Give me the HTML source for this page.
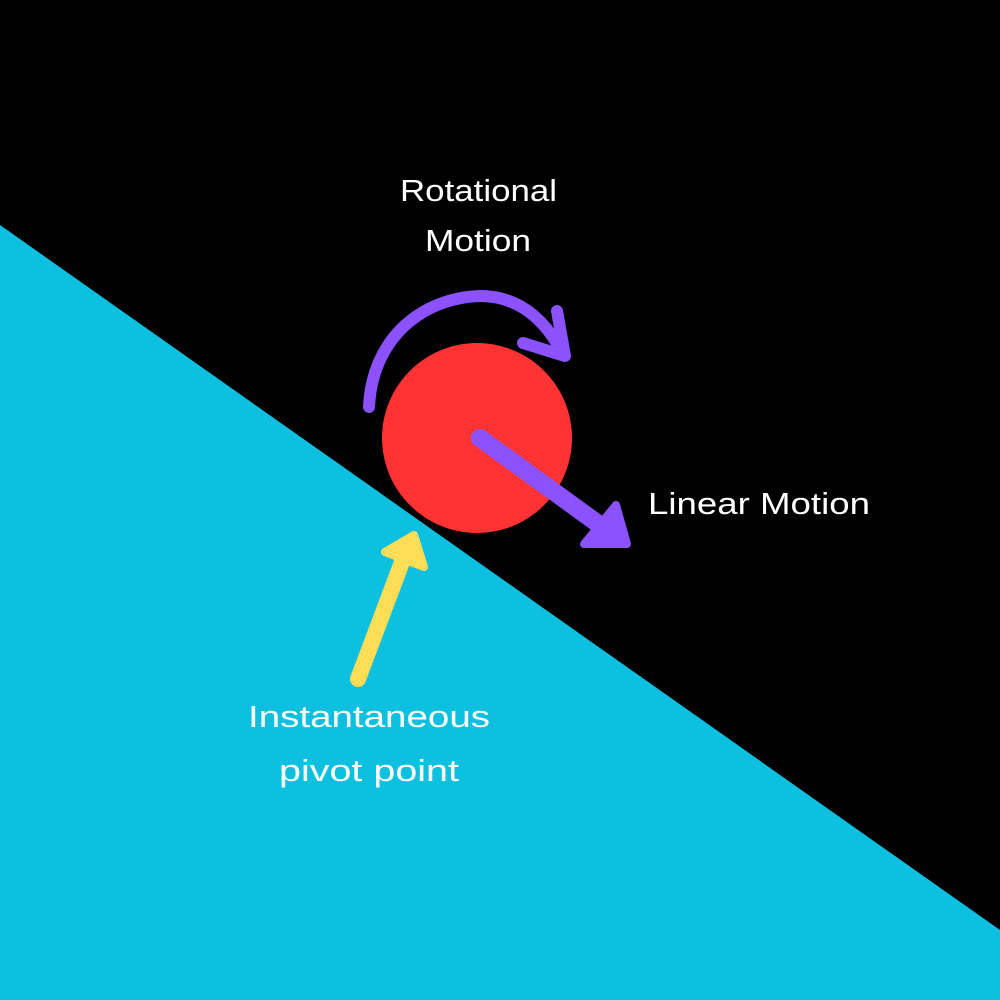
<!DOCTYPE html>
<html><head><style>html,body{margin:0;width:1000px;height:1000px;overflow:hidden;background:#000}svg{display:block}</style></head>
<body>
<svg width="1000" height="1000" viewBox="0 0 1000 1000" xmlns="http://www.w3.org/2000/svg">
<rect width="1000" height="1000" fill="#000"/>
<polygon points="0,225 1000,930 1000,1000 0,1000" fill="#0ec0df"/>
<circle cx="477" cy="438" r="95" fill="#ff3333"/>
<g fill="#8c52ff" stroke="#8c52ff" stroke-linecap="round" stroke-linejoin="round">
<path d="M369,407 C372,340 420,298 480,296 C515,296 540,315 558,345" fill="none" stroke-width="12"/>
<path d="M523,343 L565,356 L557,311" fill="none" stroke-width="12"/>
<line x1="480" y1="438" x2="597" y2="523" stroke-width="18"/>
<polygon points="584,544 627,544 616,505" stroke-width="8"/>
</g>
<g fill="#ffdd57" stroke="#ffdd57" stroke-linecap="round" stroke-linejoin="round">
<line x1="358" y1="679" x2="402" y2="562" stroke-width="16"/>
<polygon points="414,535 385,552 424,567" stroke-width="8"/>
</g>
<g fill="#fff" font-family="Liberation Sans, sans-serif" font-size="31">
<text x="400" y="201" textLength="157" lengthAdjust="spacingAndGlyphs">Rotational</text>
<text x="425" y="251" textLength="106" lengthAdjust="spacingAndGlyphs">Motion</text>
<text x="648" y="514" textLength="222" lengthAdjust="spacingAndGlyphs">Linear Motion</text>
<text x="248" y="727" textLength="242" lengthAdjust="spacingAndGlyphs">Instantaneous</text>
<text x="279" y="781" textLength="180" lengthAdjust="spacingAndGlyphs">pivot point</text>
</g>
</svg>
</body></html>
